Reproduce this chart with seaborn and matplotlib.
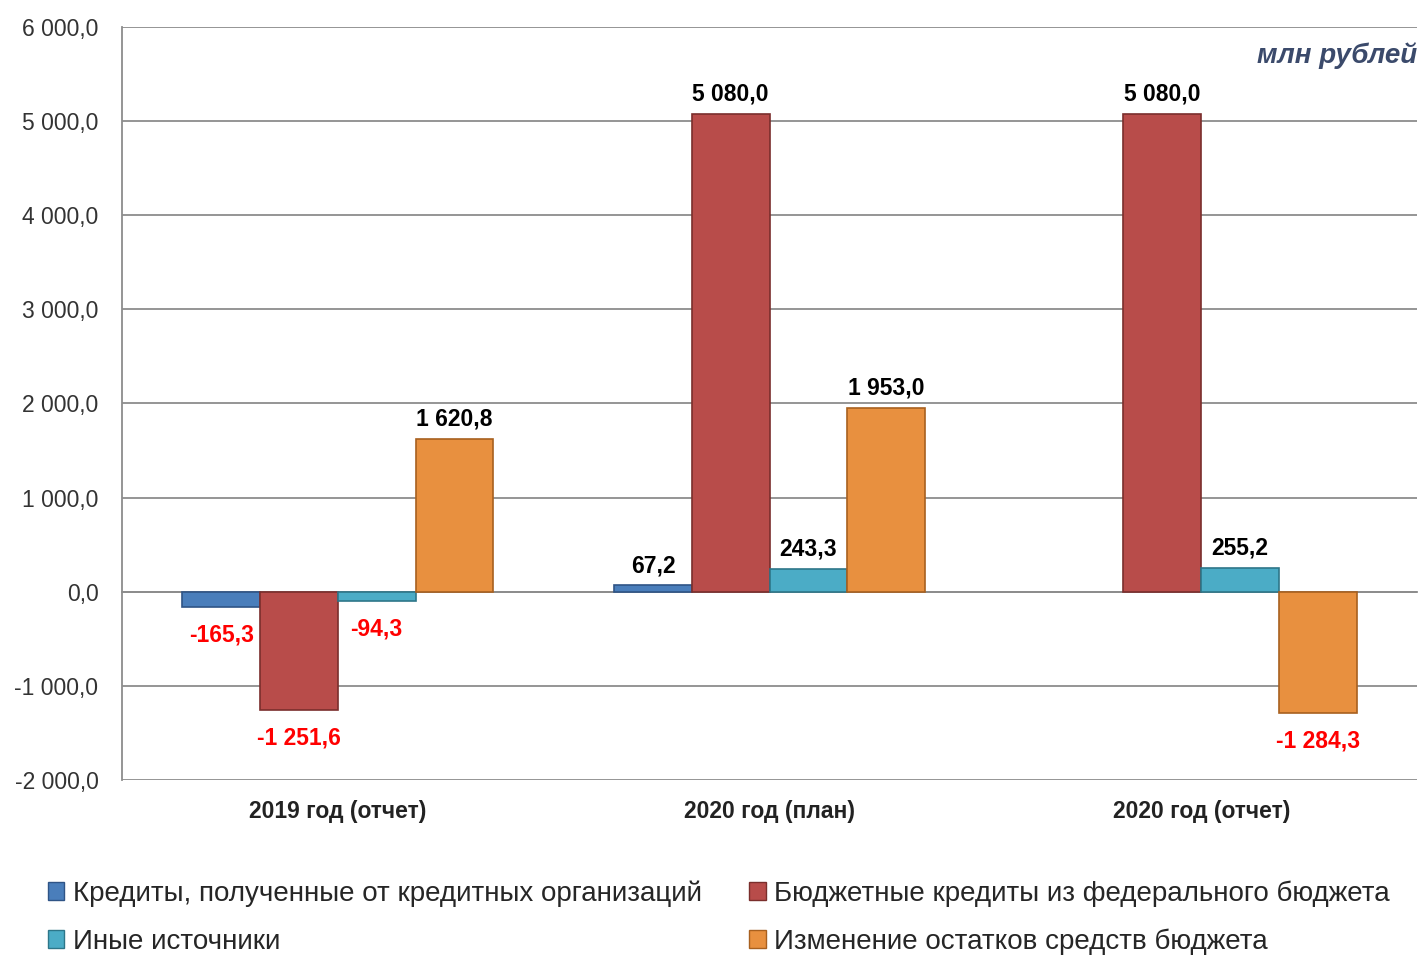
import matplotlib
matplotlib.use("Agg")
import matplotlib.pyplot as plt
import matplotlib.transforms as mtransforms
from matplotlib.patches import Patch
from matplotlib.ticker import FuncFormatter, FixedLocator
import seaborn as sns
import pandas as pd

# data, млн рублей
periods = ["2019 год (отчет)", "2020 год (план)", "2020 год (отчет)"]
series_names = [
    "Кредиты, полученные от кредитных организаций",
    "Бюджетные кредиты из федерального бюджета",
    "Иные источники",
    "Изменение остатков средств бюджета",
]
kredity_org = [-165.3, 67.2, 0.0]
budget_kredity = [-1251.6, 5080.0, 5080.0]
inye = [-94.3, 243.3, 255.2]
izmenenie = [1620.8, 1953.0, -1284.3]
colors = ["#4a7ebb", "#b84c4a", "#4bacc6", "#e8903f"]
edge_colors = ["#2f5486", "#7a2e2c", "#2d7689", "#a8601f"]

values = [kredity_org, budget_kredity, inye, izmenenie]
df = pd.DataFrame(
    [(p, s, v[i]) for s, v in zip(series_names, values) for i, p in enumerate(periods)],
    columns=["period", "series", "value"],
)

sns.set_style("white")
plt.rcParams["font.family"] = ["Liberation Sans", "DejaVu Sans"]


def fmt_num(x, pos=None):
    s = f"{abs(x):,.1f}".replace(",", " ").replace(".", ",")
    return ("-" if x < 0 else "") + s


fig = plt.figure(figsize=(14.21, 9.59), dpi=100)
ax = fig.add_axes([0.0859, 0.1867, 0.9113, 0.7851])

sns.barplot(
    data=df, x="period", y="value", hue="series", order=periods,
    hue_order=series_names, palette=colors, saturation=1, width=0.72, gap=0,
    legend=False, ax=ax, zorder=3,
)

# bar edges and value labels
for k, cont in enumerate(ax.containers):
    for bar, v in zip(cont, values[k]):
        if v == 0:
            bar.set_linewidth(0)
            continue
        bar.set_edgecolor(edge_colors[k])
        bar.set_linewidth(1.2)
        cx = bar.get_x() + bar.get_width() / 2
        if v > 0:
            ax.annotate(fmt_num(v), (cx, v), xytext=(0, 6), textcoords="offset points",
                        ha="center", va="bottom", fontsize=16.5, fontweight="bold", color="black")
        else:
            ax.annotate(fmt_num(v), (cx, v), xytext=(0, -12), textcoords="offset points",
                        ha="center", va="top", fontsize=16.5, fontweight="bold", color="#ff0000")

ax.set_xlim(-0.5, 2.5)
ax.set_ylim(-2000, 6000)
ax.set_yticks(range(-2000, 6001, 1000))
ax.yaxis.set_major_formatter(FuncFormatter(fmt_num))
ax.yaxis.grid(True, color="#8c8c8c", linewidth=1.3, zorder=0)
ax.set_axisbelow(True)
ax.tick_params(axis="y", direction="out", length=8, width=1.3, color="#8c8c8c",
               labelsize=16.5, labelcolor="#333333", pad=9)

# category axis crosses at zero
ax.spines["bottom"].set_position(("data", 0))
ax.spines["bottom"].set_color("#8c8c8c")
ax.spines["bottom"].set_linewidth(1.3)
ax.spines["left"].set_color("#8c8c8c")
ax.spines["left"].set_linewidth(1.3)
ax.spines["top"].set_visible(False)
ax.spines["right"].set_visible(False)
ax.tick_params(axis="x", which="major", length=0, labelbottom=False)
ax.xaxis.set_minor_locator(FixedLocator([0.5, 1.5, 2.5]))
ax.tick_params(axis="x", which="minor", direction="out", length=7, width=1.3, color="#8c8c8c")
ax.set_xlabel("")
ax.set_ylabel("")

trans = mtransforms.blended_transform_factory(ax.transData, ax.transAxes)
for i, p in enumerate(periods):
    ax.text(i, -0.042, p, transform=trans, ha="center", va="center",
            fontsize=16.5, fontweight="bold", color="#222222")

ax.text(1.0, 0.962, "млн рублей", transform=ax.transAxes, ha="right", va="center",
        fontsize=20, fontweight="bold", fontstyle="italic", color="#3b4a6b")

# legend: column-wise order
order = [0, 2, 1, 3]
handles = [Patch(facecolor=colors[i], edgecolor=edge_colors[i]) for i in order]
labels = [series_names[i] for i in order]
fig.legend(handles, labels, ncol=2, loc="lower left", bbox_to_anchor=(0.016, -0.022),
           frameon=False, fontsize=20, handlelength=0.6, handleheight=0.6,
           handletextpad=0.3, columnspacing=1.7, labelspacing=0.78)

fig.savefig("out.png", dpi=100)
